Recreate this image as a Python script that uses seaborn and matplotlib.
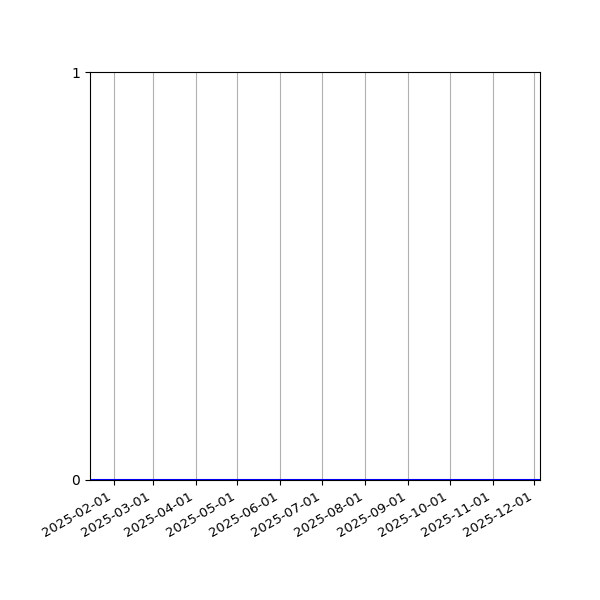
import numpy as np
import pandas as pd
import matplotlib
matplotlib.use("Agg")
import matplotlib.pyplot as plt
import matplotlib.dates as mdates
import seaborn as sns

# Data: a flat series of zeros over 2025
dates = ["2025-01-15", "2025-03-15", "2025-05-15", "2025-07-15", "2025-09-15", "2025-12-05"]
values = [0, 0, 0, 0, 0, 0]

df = pd.DataFrame({"date": pd.to_datetime(dates), "value": values})

# keep matplotlib's plain defaults (black text, short ticks)
plt.rcParams["font.family"] = ["DejaVu Sans"]

fig, ax = plt.subplots(figsize=(6, 6), dpi=100)
sns.lineplot(data=df, x="date", y="value", color="blue", linewidth=1.5, ax=ax)

ax.set_xlim(df["date"].min(), df["date"].max())
ax.set_ylim(0, 1)
ax.set_yticks([0, 1])
ax.xaxis.set_major_locator(mdates.MonthLocator())
ax.xaxis.set_major_formatter(mdates.DateFormatter("%Y-%m-%d"))
ax.tick_params(axis="x", labelsize=9.5)
ax.grid(axis="x", color="#b0b0b0", linewidth=0.8)
ax.set_xlabel("")
ax.set_ylabel("")
fig.autofmt_xdate()
fig.subplots_adjust(left=0.15, right=0.9, top=0.88, bottom=0.2)
fig.savefig("out.png", dpi=100)
